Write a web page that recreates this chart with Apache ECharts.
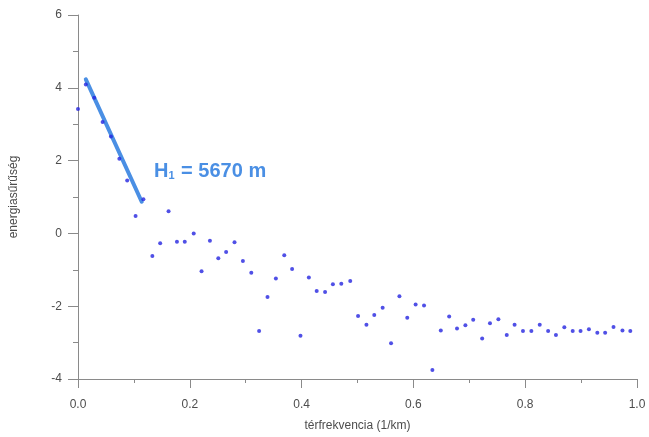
<!DOCTYPE html>
<html>
<head>
<meta charset="utf-8">
<script src="https://cdn.jsdelivr.net/npm/echarts@6/dist/echarts.min.js"></script>
<style>html,body{margin:0;padding:0;background:#fff;}#c{width:649px;height:437px;}</style>
</head>
<body>
<div id="c"></div>
<script>
// spatial frequency (1/km)
const freq = [0.000,0.014,0.029,0.044,0.059,0.074,0.088,0.103,0.117,0.133,0.147,0.162,0.177,0.191,0.207,0.221,0.236,0.251,0.265,0.280,0.295,0.310,0.324,0.339,0.354,0.369,0.383,0.398,0.413,0.427,0.442,0.456,0.471,0.487,0.501,0.516,0.530,0.545,0.560,0.575,0.589,0.604,0.619,0.634,0.649,0.664,0.678,0.693,0.707,0.723,0.737,0.752,0.767,0.781,0.796,0.811,0.826,0.841,0.855,0.870,0.885,0.899,0.914,0.929,0.943,0.958,0.974,0.988];
// energy density
const energy = [3.42,4.09,3.73,3.06,2.66,2.05,1.45,0.48,0.94,-0.62,-0.27,0.61,-0.23,-0.23,0.00,-1.04,-0.20,-0.68,-0.51,-0.24,-0.76,-1.08,-2.68,-1.75,-1.24,-0.60,-0.98,-2.81,-1.21,-1.58,-1.61,-1.40,-1.38,-1.31,-2.27,-2.51,-2.24,-2.04,-3.02,-1.73,-2.32,-1.95,-1.98,-3.75,-2.67,-2.28,-2.61,-2.52,-2.37,-2.89,-2.47,-2.36,-2.79,-2.51,-2.68,-2.68,-2.51,-2.68,-2.79,-2.58,-2.68,-2.68,-2.63,-2.73,-2.73,-2.57,-2.67,-2.68];
// fitted line
const fitX = [0.014, 0.114];
const fitY = [4.23, 0.87];
const xTicks = [0, 1, 0.2];   // min, max, interval
const yTicks = [-4, 6, 2];

const chart = echarts.init(document.getElementById('c'), null, {renderer: 'canvas'});
const axisCol = '#8a8a8a';
const labelCol = '#4d4d4d';
chart.setOption({
  animation: false,
  backgroundColor: '#fff',
  grid: {left: 78, right: 12, top: 15, bottom: 55},
  xAxis: {
    type: 'value', min: xTicks[0], max: xTicks[1], interval: xTicks[2],
    name: 'térfrekvencia (1/km)', nameLocation: 'middle', nameGap: 41,
    nameTextStyle: {color: labelCol, fontSize: 12, fontFamily: 'Liberation Sans'},
    axisLine: {onZero: false, lineStyle: {color: axisCol, width: 1}},
    axisTick: {length: 9, lineStyle: {color: axisCol}},
    minorTick: {show: true, splitNumber: 2, length: 4, lineStyle: {color: axisCol}},
    axisLabel: {color: labelCol, fontSize: 12, margin: 20, fontFamily: 'Liberation Sans',
      formatter: v => v.toFixed(1)},
    splitLine: {show: false}
  },
  yAxis: {
    type: 'value', min: yTicks[0], max: yTicks[1], interval: yTicks[2],
    name: 'energiasűrűség', nameLocation: 'middle', nameGap: 58,
    nameTextStyle: {color: labelCol, fontSize: 12, fontFamily: 'Liberation Sans'},
    axisLine: {onZero: false, lineStyle: {color: axisCol, width: 1}},
    axisTick: {length: 10, lineStyle: {color: axisCol}},
    minorTick: {show: true, splitNumber: 2, length: 5, lineStyle: {color: axisCol}},
    axisLabel: {color: labelCol, fontSize: 12, margin: 16, fontFamily: 'Liberation Sans'},
    splitLine: {show: false}
  },
  series: [
    {
      type: 'scatter',
      data: freq.map((x, i) => [x, energy[i]]),
      symbol: 'circle', symbolSize: 4,
      itemStyle: {color: '#2424e0'},
      z: 3
    },
    {
      type: 'line',
      data: fitX.map((x, i) => [x, fitY[i]]),
      symbol: 'none',
      lineStyle: {color: '#4a8fe4', width: 4, cap: 'round'},
      z: 2
    }
  ],
  graphic: [{
    type: 'text', left: 154, top: 160,
    style: {
      text: '{a|H}{s|1}{a| = 5670 m}',
      rich: {
        a: {fontSize: 20, fontWeight: 'bold', fill: '#4a8fe4', fontFamily: 'Liberation Sans', lineHeight: 26, verticalAlign: 'bottom'},
        s: {fontSize: 11, fontWeight: 'bold', fill: '#4a8fe4', fontFamily: 'Liberation Sans', lineHeight: 26, padding: [10, 1, 0, 0], verticalAlign: 'bottom'}
      }
    }
  }]
});
</script>
</body>
</html>
